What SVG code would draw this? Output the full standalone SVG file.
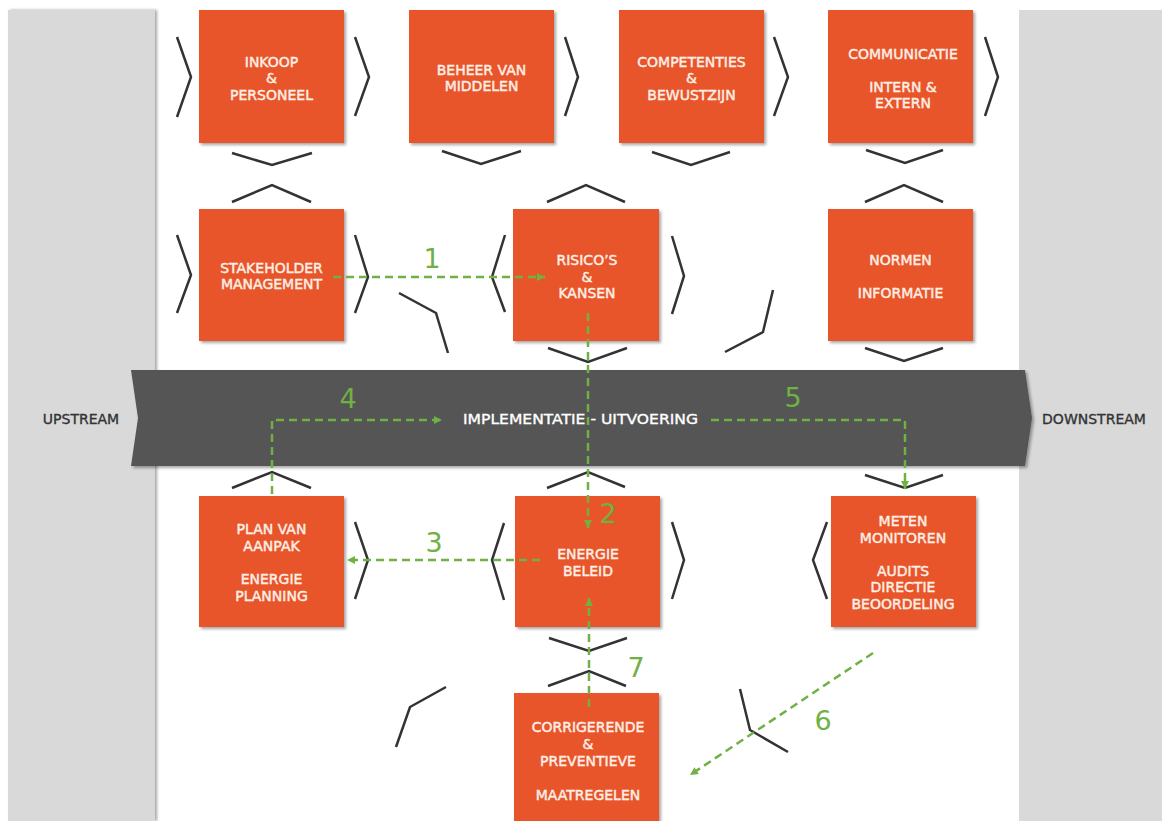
<svg xmlns="http://www.w3.org/2000/svg" width="1162" height="821" viewBox="0 0 1162 821">
<defs>
<filter id="sh" x="-10%" y="-10%" width="125%" height="125%"><feDropShadow dx="2" dy="2" stdDeviation="1.6" flood-color="#000" flood-opacity="0.35"/></filter>
<filter id="psh" x="-10%" y="-10%" width="125%" height="125%"><feDropShadow dx="2" dy="0" stdDeviation="1.5" flood-color="#000" flood-opacity="0.35"/></filter>
<marker id="ah" markerWidth="10" markerHeight="10" refX="9" refY="5" orient="auto" markerUnits="userSpaceOnUse"><path d="M1,1 L9,5 L1,9 Z" fill="#70b144"/></marker>
<style>
.box{fill:#e8552a;filter:url(#sh)}
.bt{font-family:"DejaVu Sans",Verdana,sans-serif;font-size:14px;fill:#fdefe6;stroke:#fdefe6;stroke-width:0.45;text-anchor:middle}
.ch{fill:none;stroke:#333;stroke-width:2.5;stroke-linejoin:miter}
.cn{fill:none;stroke:#70b144;stroke-width:2.5;stroke-dasharray:8 5}
.num{font-family:"DejaVu Sans",Verdana,sans-serif;font-size:27px;fill:#70b144;text-anchor:middle}
.side{font-family:"DejaVu Sans",Verdana,sans-serif;font-size:14px;fill:#333;stroke:#333;stroke-width:0.35;text-anchor:middle}
</style>
</defs>
<rect width="1162" height="821" fill="#ffffff"/>
<g id="panels">
<rect x="8" y="10" width="147" height="811" fill="#d9d9d9" filter="url(#psh)"/>
<rect x="1019" y="10" width="143" height="811" fill="#d9d9d9"/>
<text class="side" x="81" y="424">UPSTREAM</text>
<text class="side" x="1094" y="424">DOWNSTREAM</text>
</g>
<g id="band">
<polygon points="131,370 1025,370 1032,418 1025,466 131,466 138,418" fill="#555555" filter="url(#sh)"/>
<text x="463" y="424" textLength="235" lengthAdjust="spacingAndGlyphs" font-family="DejaVu Sans, Verdana, sans-serif" font-size="14" fill="#ffffff" stroke="#ffffff" stroke-width="0.35">IMPLEMENTATIE - UITVOERING</text>
</g>
<g id="chevrons">
<polyline class="ch" points="177,37 191,77 177,117"/>
<polyline class="ch" points="355,37 369,77 355,116"/>
<polyline class="ch" points="565,37 578,77 565,116"/>
<polyline class="ch" points="774,37 788,77 774,116"/>
<polyline class="ch" points="985,37 998,77 985,116"/>
<polyline class="ch" points="232,153 272,165 312,153"/>
<polyline class="ch" points="442,151 481,164 521,151"/>
<polyline class="ch" points="652,152 691,165 730,152"/>
<polyline class="ch" points="866,150 905,163 943,150"/>
<polyline class="ch" points="232,202 272,185 311,202"/>
<polyline class="ch" points="547,202 586,185 625,202"/>
<polyline class="ch" points="865,202 904,185 943,202"/>
<polyline class="ch" points="177,235 191,275 177,313"/>
<polyline class="ch" points="355,235 368,277 355,313"/>
<polyline class="ch" points="505,235 492,277 505,312"/>
<polyline class="ch" points="672,236 684,276 672,314"/>
<polyline class="ch" points="399,293 436,313 448,353"/>
<polyline class="ch" points="725,352 763,332 773,290"/>
<polyline class="ch" points="548,348 588,362 627,348"/>
<polyline class="ch" points="865,348 904,361 943,348"/>
<polyline class="ch" points="232,488 272,472 311,488"/>
<polyline class="ch" points="547,488 588,472 625,487"/>
<polyline class="ch" points="865,475 905,488 943,475"/>
<polyline class="ch" points="355,522 368,560 355,599"/>
<polyline class="ch" points="504,523 492,560 504,600"/>
<polyline class="ch" points="672,522 684,560 672,599"/>
<polyline class="ch" points="827,522 813,560 827,599"/>
<polyline class="ch" points="549,638 589,651 627,638"/>
<polyline class="ch" points="548,686 589,671 626,686"/>
<polyline class="ch" points="446,687 410,707 396,747"/>
<polyline class="ch" points="740,689 750,730 788,752"/>
</g>
<g id="inkoop"><rect class="box" x="199" y="10" width="145" height="133"/>
<text class="bt" x="271.5" y="67">INKOOP</text><text class="bt" x="271.5" y="83">&amp;</text><text class="bt" x="271.5" y="100">PERSONEEL</text></g>
<g id="beheer"><rect class="box" x="409" y="10" width="145" height="133"/>
<text class="bt" x="481.5" y="75">BEHEER VAN</text><text class="bt" x="481.5" y="91">MIDDELEN</text></g>
<g id="competenties"><rect class="box" x="619" y="10" width="145" height="133"/>
<text class="bt" x="691.5" y="67">COMPETENTIES</text><text class="bt" x="691.5" y="83">&amp;</text><text class="bt" x="691.5" y="100">BEWUSTZIJN</text></g>
<g id="communicatie"><rect class="box" x="828" y="10" width="145" height="133"/>
<text class="bt" x="903" y="59">COMMUNICATIE</text><text class="bt" x="903" y="92">INTERN &amp;</text><text class="bt" x="903" y="108">EXTERN</text></g>
<g id="stakeholder"><rect class="box" x="199" y="209" width="145" height="132"/>
<text class="bt" x="271.5" y="273">STAKEHOLDER</text><text class="bt" x="271.5" y="289">MANAGEMENT</text></g>
<g id="risicos"><rect class="box" x="513" y="209" width="146" height="132"/>
<text class="bt" x="587" y="265">RISICO’S</text><text class="bt" x="587" y="282">&amp;</text><text class="bt" x="587" y="298">KANSEN</text></g>
<g id="normen"><rect class="box" x="828" y="209" width="145" height="132"/>
<text class="bt" x="900.5" y="265">NORMEN</text><text class="bt" x="900.5" y="298">INFORMATIE</text></g>
<g id="planvanaanpak"><rect class="box" x="199" y="496" width="145" height="131"/>
<text class="bt" x="271.5" y="534">PLAN VAN</text><text class="bt" x="271.5" y="551">AANPAK</text><text class="bt" x="271.5" y="584">ENERGIE</text><text class="bt" x="271.5" y="601">PLANNING</text></g>
<g id="energiebeleid"><rect class="box" x="515" y="496" width="145" height="131"/>
<text class="bt" x="588" y="559">ENERGIE</text><text class="bt" x="588" y="576">BELEID</text></g>
<g id="meten"><rect class="box" x="831" y="496" width="145" height="131"/>
<text class="bt" x="903" y="526">METEN</text><text class="bt" x="903" y="543">MONITOREN</text><text class="bt" x="903" y="576">AUDITS</text><text class="bt" x="903" y="592">DIRECTIE</text><text class="bt" x="903" y="609">BEOORDELING</text></g>
<g id="corrigerende"><rect class="box" x="514" y="693" width="145" height="140"/>
<text class="bt" x="588" y="732">CORRIGERENDE</text><text class="bt" x="588" y="749">&amp;</text><text class="bt" x="588" y="766">PREVENTIEVE</text><text class="bt" x="588" y="800">MAATREGELEN</text></g>
<g id="connectors">
<path class="cn" d="M333,277 H545" marker-end="url(#ah)"/>
<path class="cn" d="M588,313 V528" marker-end="url(#ah)"/>
<path class="cn" d="M540,560 H347" marker-end="url(#ah)"/>
<path class="cn" d="M272,494 V420 H442" marker-end="url(#ah)"/>
<path class="cn" d="M711,420 H905 V489" marker-end="url(#ah)"/>
<path class="cn" d="M873,653 L690,775" marker-end="url(#ah)"/>
<path class="cn" d="M589,707 V598" marker-end="url(#ah)"/>
<text class="num" x="432" y="268">1</text>
<text class="num" x="608" y="523">2</text>
<text class="num" x="434" y="552">3</text>
<text class="num" x="348" y="408">4</text>
<text class="num" x="793" y="407">5</text>
<text class="num" x="823" y="730">6</text>
<text class="num" x="636" y="677">7</text>
</g>
</svg>
